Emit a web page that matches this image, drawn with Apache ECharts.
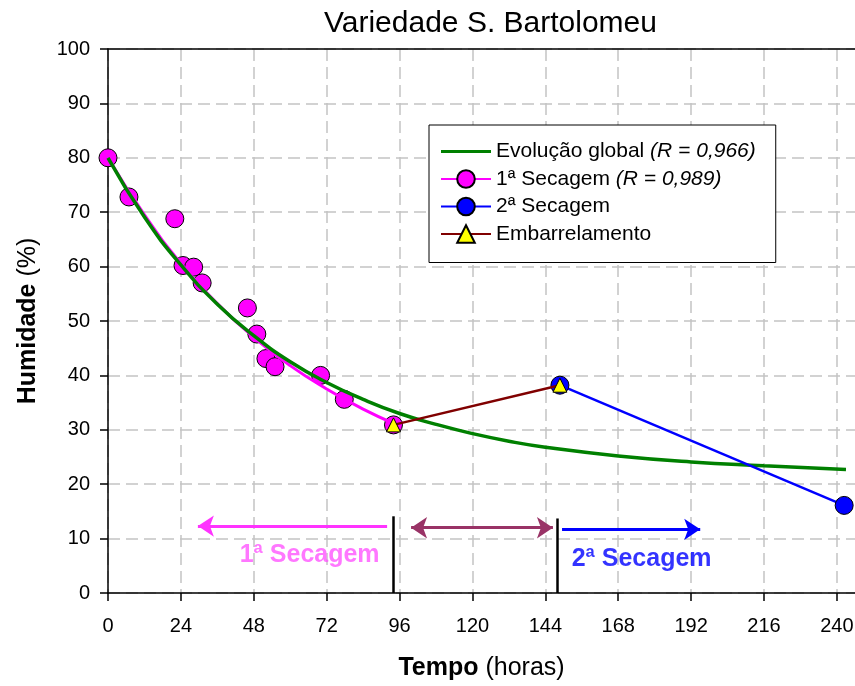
<!DOCTYPE html>
<html><head><meta charset="utf-8">
<script src="https://cdn.jsdelivr.net/npm/echarts@6/dist/echarts.min.js"></script>
<style>html,body{margin:0;padding:0;background:#fff;overflow:hidden}#c{width:863px;height:686px}</style>
</head><body><div id="c"></div>
<script>
// ---- data ----
const sec1Time = [0, 6.9, 22, 24.7, 28.2, 31, 45.9, 49, 52, 55, 70, 77.8, 94];
const sec1Hum  = [80, 72.8, 68.8, 60.2, 59.9, 57, 52.4, 47.6, 43.1, 41.6, 40.0, 35.6, 30.9];
const sec1FitTime = [0, 12, 24, 36, 48, 60, 72, 84, 94];
const sec1FitHum  = [80, 69.5, 60.6, 53.2, 47.0, 41.8, 37.5, 33.8, 31.2];
const globalTime = [0, 12, 24, 36, 48, 60, 72, 84, 96, 108, 120, 132, 144, 168, 192, 216, 243];
const globalHum  = [80, 69.1, 60.3, 53.1, 47.3, 42.5, 38.7, 35.6, 33.0, 31.0, 29.3, 27.9, 26.8, 25.2, 24.1, 23.4, 22.7];
const sec2Time = [148.8, 242.4];
const sec2Hum  = [38.2, 16.1];
const embTime = [94, 148.8];
const embHum  = [30.9, 38.2];
const seriesNames = ['Evolução global', '1ª Secagem', '2ª Secagem', 'Embarrelamento'];
const fitR = {'Evolução global': '(R = 0,966)', '1ª Secagem': '(R = 0,989)'};
// phase annotations
const phaseBoundTime = [94.0, 148.0];
const phaseBoundTop  = [14.1, 13.7];
const arrowFrom = [[91.9, 12.3], [99.8, 12.0], [149.5, 11.7]];
const arrowTo   = [[29.6, 12.3], [146.5, 12.0], [195.0, 11.7]];
const phaseLabels = ['1ª Secagem', '2ª Secagem'];
const phaseLabelPos = [[66.4, 7.0], [175.7, 6.3]];

const FF = 'Liberation Sans, Arial, Helvetica, sans-serif';
const zip = (a, b) => a.map((v, i) => [v, b[i]]);

const arrowColors = ['#ff33ff', '#993366', '#0000ff'];
const arrowSymbols = [['none', 'arrow'], ['arrow', 'arrow'], ['none', 'arrow']];
const markLines = [];
arrowFrom.forEach((f, i) => {
  markLines.push([
    {coord: f, symbol: arrowSymbols[i][0], lineStyle: {color: arrowColors[i], width: 3, type: 'solid'}},
    {coord: arrowTo[i], symbol: arrowSymbols[i][1]}
  ]);
});
phaseBoundTime.forEach((t, i) => {
  markLines.push([
    {coord: [t, 0], symbol: 'none', lineStyle: {color: '#000', width: 2.5, type: 'solid'}},
    {coord: [t, phaseBoundTop[i]], symbol: 'none'}
  ]);
});
const labelColors = ['#ff55ff', '#0000ff'];
const X_MAX = 248.6;

const chart = echarts.init(document.getElementById('c'), null, {renderer: 'canvas'});
chart.setOption({
  animation: false,
  backgroundColor: '#fff',
  title: {
    text: 'Variedade S. Bartolomeu', left: 324, top: 9, padding: 0,
    textStyle: {fontFamily: FF, fontSize: 30, fontWeight: 'normal', color: '#000'}
  },
  grid: {left: 108, top: 49, right: 0, bottom: 92, show: false},
  legend: {
    orient: 'vertical', left: 429, top: 125, padding: [16, 20, 18, 11],
    borderColor: '#000', borderWidth: 1, backgroundColor: '#fff', borderRadius: 0,
    itemWidth: 50, itemHeight: 22, itemGap: 6.5, selectedMode: false,
    textStyle: {fontFamily: FF, fontSize: 21, color: '#000',
      rich: {i: {fontFamily: FF, fontSize: 21, fontStyle: 'italic', color: '#000'}}},
    formatter: n => fitR[n] ? n + ' {i|' + fitR[n] + '}' : n,
    data: [
      {name: seriesNames[0], icon: 'path://M0,0H50V3H0Z'},
      seriesNames[1], seriesNames[2], seriesNames[3]
    ]
  },
  xAxis: [{
    type: 'value', min: 0, max: X_MAX, interval: 24,
    name: '{b|Tempo} (horas)', nameLocation: 'middle', nameGap: 63,
    nameTextStyle: {fontFamily: FF, fontSize: 25, color: '#000', padding: [0, 8, 0, 0],
      rich: {b: {fontFamily: FF, fontSize: 25, fontWeight: 'bold', color: '#000'}}},
    axisLine: {lineStyle: {color: '#000', width: 1.5}},
    axisTick: {show: true, inside: false, length: 8, lineStyle: {color: '#000', width: 1.5}},
    axisLabel: {fontFamily: FF, fontSize: 20, color: '#000', margin: 23, showMaxLabel: false},
    splitLine: {show: true, lineStyle: {color: '#c4c4c4', width: 1.5, type: [12, 6]}}
  }, {
    type: 'value', position: 'top', min: 0, max: X_MAX, interval: 24,
    axisLine: {show: true, lineStyle: {color: '#000', width: 1.5}},
    axisTick: {show: false}, axisLabel: {show: false}, splitLine: {show: false}
  }],
  yAxis: {
    type: 'value', min: 0, max: 100, interval: 10,
    name: '{b|Humidade} (%)', nameLocation: 'middle', nameGap: 67, nameRotate: 90,
    nameTextStyle: {fontFamily: FF, fontSize: 25, color: '#000',
      rich: {b: {fontFamily: FF, fontSize: 25, fontWeight: 'bold', color: '#000'}}},
    axisLine: {show: true, lineStyle: {color: '#000', width: 1.5}},
    axisTick: {show: true, inside: false, length: 8, lineStyle: {color: '#000', width: 1.5}},
    axisLabel: {fontFamily: FF, fontSize: 20, color: '#000', margin: 18},
    splitLine: {show: true, lineStyle: {color: '#c4c4c4', width: 1.5, type: [12, 6]}}
  },
  series: [
    {
      name: 'pts1', type: 'scatter', data: zip(sec1Time, sec1Hum), z: 2,
      symbol: 'circle', symbolSize: 18,
      itemStyle: {color: '#ff00ff', borderColor: '#000', borderWidth: 1, opacity: 1}
    },
    {
      name: seriesNames[1], type: 'line', data: zip(sec1FitTime, sec1FitHum), z: 3,
      smooth: true, symbol: 'circle', symbolSize: 18, showSymbol: false,
      itemStyle: {color: '#ff00ff', borderColor: '#000', borderWidth: 1},
      lineStyle: {color: '#ff00ff', width: 3}
    },
    {
      name: seriesNames[0], type: 'line', data: zip(globalTime, globalHum), z: 4,
      smooth: true, symbol: 'none',
      itemStyle: {color: '#008000'},
      lineStyle: {color: '#008000', width: 3.5}
    },
    {
      name: seriesNames[2], type: 'line', data: zip(sec2Time, sec2Hum), z: 5,
      symbol: 'circle', symbolSize: 18, showSymbol: true,
      itemStyle: {color: '#0000ff', borderColor: '#000', borderWidth: 1},
      lineStyle: {color: '#0000ff', width: 2.5}
    },
    {
      name: seriesNames[3], type: 'line', data: zip(embTime, embHum), z: 6,
      symbol: 'triangle', symbolSize: 14, showSymbol: true,
      itemStyle: {color: '#ffff00', borderColor: '#000', borderWidth: 1},
      lineStyle: {color: '#800000', width: 2.5}
    },
    {
      name: 'annotations', type: 'scatter', z: 7, silent: true,
      symbolSize: 1, itemStyle: {color: 'rgba(0,0,0,0)'},
      data: phaseLabels.map((t, i) => ({
        value: phaseLabelPos[i].concat([t]),
        label: {show: true, position: 'inside', formatter: p => p.value[2],
          fontFamily: FF, fontSize: 25, fontWeight: 'bold', color: labelColors[i]}
      })),
      markLine: {
        silent: true, animation: false, symbolSize: 16,
        label: {show: false},
        emphasis: {disabled: true},
        data: markLines
      }
    }
  ]
});
</script>
</body></html>
